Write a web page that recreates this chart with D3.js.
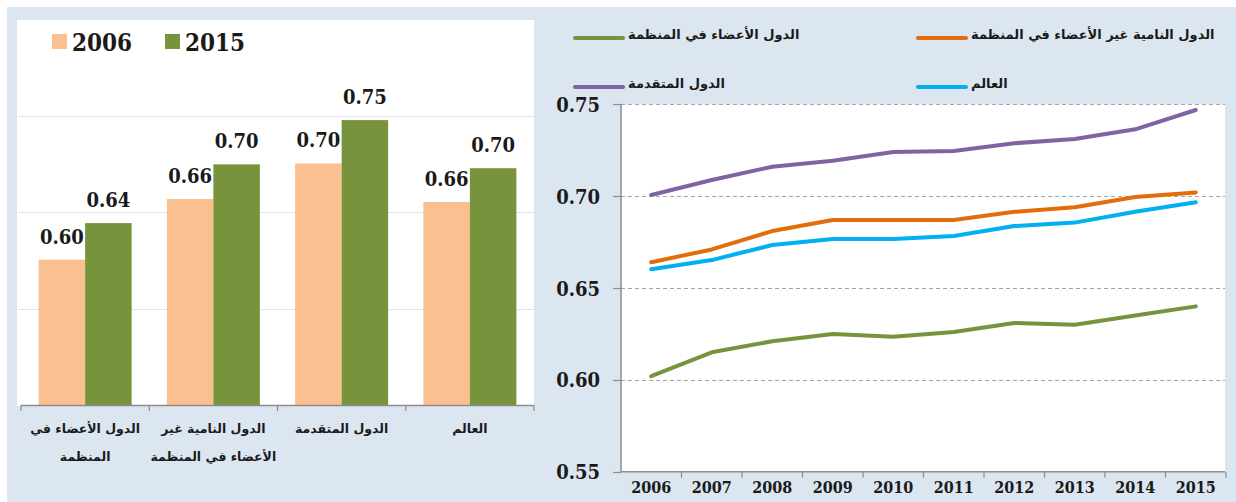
<!DOCTYPE html>
<html>
<head>
<meta charset="utf-8">
<script src="https://cdn.jsdelivr.net/npm/d3@7"></script>
<style>
  body { margin: 0; background: #fff; }
  svg { display: block; }
  .num { font-family: "DejaVu Serif Condensed", "DejaVu Serif", serif; font-stretch: condensed; font-weight: bold; fill: #1a1a1a; }
  .ar { font-family: "DejaVu Sans", sans-serif; font-weight: bold; fill: #1a1a1a; }
</style>
</head>
<body>
<svg id="chart" width="1236" height="502"></svg>
<script>
// bar chart data (2006 vs 2015)
const barCategories = ["members", "nonMembers", "developed", "world"];
const barCategoryLines = [
  ["الدول الأعضاء في", "المنظمة"],
  ["الدول النامية غير", "الأعضاء في المنظمة"],
  ["الدول المتقدمة"],
  ["العالم"]
];
const barYears = ["2006", "2015"];
const bar2006 = [0.601, 0.664, 0.701, 0.661];
const bar2015 = [0.639, 0.700, 0.746, 0.696];

// line chart data
const years = [2006, 2007, 2008, 2009, 2010, 2011, 2012, 2013, 2014, 2015];
const members = [0.602, 0.615, 0.621, 0.625, 0.6235, 0.626, 0.631, 0.630, 0.635, 0.640];
const nonMembers = [0.664, 0.671, 0.681, 0.687, 0.687, 0.687, 0.6915, 0.694, 0.6995, 0.702];
const developed = [0.7006, 0.7088, 0.716, 0.7193, 0.724, 0.7246, 0.7288, 0.7311, 0.7364, 0.7469];
const world = [0.6602, 0.6652, 0.6734, 0.6767, 0.6767, 0.6783, 0.6837, 0.6856, 0.6915, 0.6967];
const lineTicks = [0.55, 0.60, 0.65, 0.70, 0.75];

const seriesNames = {
  members: "الدول الأعضاء في المنظمة",
  nonMembers: "الدول النامية غير الأعضاء في المنظمة",
  developed: "الدول المتقدمة",
  world: "العالم"
};

const barColors = { "2006": "#fac090", "2015": "#77933c" };
const lineColors = { members: "#77933c", nonMembers: "#e46c0a", developed: "#8064a2", world: "#00b0f0" };

const svg = d3.select("#chart");

// panel background
svg.append("rect").attr("x", 7).attr("y", 7).attr("width", 1229).attr("height", 495).attr("fill", "#dce6f1");

// ---------- left: bar chart ----------
const bx = { left: 21, right: 534, top: 20, bottom: 405 };
svg.append("rect").attr("x", 17).attr("y", bx.top).attr("width", bx.right - 17).attr("height", bx.bottom - bx.top + 1).attr("fill", "#fff");

const x0 = d3.scaleBand().domain(barCategories).range([bx.left, bx.right]).paddingInner(0.275).paddingOuter(0.1375);
const x1 = d3.scaleBand().domain(barYears).range([0, x0.bandwidth()]);
const yb = d3.scaleLinear().domain([0.45, 0.85]).range([bx.bottom, bx.top]);

// gridlines
svg.append("g").selectAll("line").data([0.55, 0.65, 0.75]).enter().append("line")
  .attr("x1", bx.left - 3).attr("x2", bx.right)
  .attr("y1", d => Math.round(yb(d)) + 0.5).attr("y2", d => Math.round(yb(d)) + 0.5)
  .attr("stroke", "#e3e3e3");

const barData = barCategories.map((c, i) => ({ cat: c, values: [
  { year: "2006", value: bar2006[i] },
  { year: "2015", value: bar2015[i] }
] }));

const groups = svg.append("g").selectAll("g").data(barData).enter().append("g")
  .attr("transform", d => "translate(" + x0(d.cat) + ",0)");

groups.selectAll("rect").data(d => d.values).enter().append("rect")
  .attr("x", d => x1(d.year))
  .attr("width", x1.bandwidth())
  .attr("y", d => yb(d.value))
  .attr("height", d => bx.bottom - yb(d.value))
  .attr("fill", d => barColors[d.year]);

groups.selectAll("text").data(d => d.values).enter().append("text")
  .attr("class", "num")
  .attr("x", d => x1(d.year) + x1.bandwidth() / 2)
  .attr("y", d => yb(d.value) - 16)
  .attr("text-anchor", "middle")
  .attr("font-size", 20)
  .text(d => d3.format(".2f")(d.value));

// x axis
const step = x0.step();
const boundaries = d3.range(barCategories.length + 1).map(i => bx.left + i * step);
svg.append("line").attr("x1", bx.left).attr("x2", bx.right).attr("y1", bx.bottom + 0.5).attr("y2", bx.bottom + 0.5)
  .attr("stroke", "#8c8c8c").attr("stroke-width", 1.5);
svg.append("g").selectAll("line").data(boundaries).enter().append("line")
  .attr("x1", d => d).attr("x2", d => d).attr("y1", bx.bottom).attr("y2", bx.bottom + 6)
  .attr("stroke", "#8c8c8c").attr("stroke-width", 1.2);

svg.append("g").selectAll("text").data(barCategories).enter().append("text")
  .attr("class", "ar")
  .attr("text-anchor", "middle")
  .attr("font-size", 12.5)
  .attr("x", d => x0(d) + x0.bandwidth() / 2)
  .attr("y", 433)
  .each(function (d, i) {
    const t = d3.select(this);
    barCategoryLines[i].forEach((line, j) => {
      t.append("tspan").attr("x", x0(d) + x0.bandwidth() / 2).attr("y", 433 + j * 28).text(line);
    });
  });

// legend
const barLegend = svg.append("g");
[[52, "2006"], [165, "2015"]].forEach(([lx, yr]) => {
  barLegend.append("rect").attr("x", lx).attr("y", 34).attr("width", 15).attr("height", 15).attr("fill", barColors[yr]);
  barLegend.append("text").attr("class", "num").attr("x", lx + 20).attr("y", 51).attr("font-size", 24).text(yr);
});

// ---------- right: line chart ----------
const lx = { left: 621, right: 1225, top: 104.3, bottom: 471.7 };
svg.append("rect").attr("x", lx.left).attr("y", lx.top).attr("width", lx.right - lx.left).attr("height", lx.bottom - lx.top).attr("fill", "#fff");

const xl = d3.scaleBand().domain(years).range([lx.left, lx.left + 60.5 * years.length]);
const yl = d3.scaleLinear().domain([0.55, 0.75]).range([lx.bottom, lx.top]);

svg.append("g").selectAll("line").data(lineTicks.slice(1)).enter().append("line")
  .attr("x1", lx.left).attr("x2", lx.right)
  .attr("y1", d => Math.round(yl(d)) + 0.5).attr("y2", d => Math.round(yl(d)) + 0.5)
  .attr("stroke", "#a6a6a6").attr("stroke-dasharray", "4,3");

// y axis
svg.append("line").attr("x1", lx.left).attr("x2", lx.left).attr("y1", lx.top).attr("y2", lx.bottom)
  .attr("stroke", "#8c8c8c").attr("stroke-width", 1.5);
svg.append("g").selectAll("line").data(lineTicks).enter().append("line")
  .attr("x1", lx.left - 8).attr("x2", lx.left)
  .attr("y1", d => Math.round(yl(d)) + 0.5).attr("y2", d => Math.round(yl(d)) + 0.5)
  .attr("stroke", "#8c8c8c").attr("stroke-width", 1.2);
svg.append("g").selectAll("text").data(lineTicks).enter().append("text")
  .attr("class", "num")
  .attr("x", 600).attr("y", d => yl(d) + 7.5)
  .attr("text-anchor", "end").attr("font-size", 20)
  .text(d => d3.format(".2f")(d));

// x axis
svg.append("line").attr("x1", lx.left).attr("x2", lx.right).attr("y1", lx.bottom).attr("y2", lx.bottom)
  .attr("stroke", "#8c8c8c").attr("stroke-width", 1.5);
svg.append("g").selectAll("line").data(years).enter().append("line")
  .attr("x1", d => xl(d) + xl.bandwidth()).attr("x2", d => xl(d) + xl.bandwidth())
  .attr("y1", lx.bottom).attr("y2", lx.bottom + 6)
  .attr("stroke", "#8c8c8c").attr("stroke-width", 1.2);
svg.append("g").selectAll("text").data(years).enter().append("text")
  .attr("class", "num")
  .attr("x", d => xl(d) + xl.bandwidth() / 2).attr("y", 493)
  .attr("text-anchor", "middle").attr("font-size", 16)
  .text(d => d);

// lines
const lineSeries = { members: members, nonMembers: nonMembers, developed: developed, world: world };
const line = d3.line()
  .x((d, i) => xl(years[i]) + xl.bandwidth() / 2)
  .y(d => yl(d));
["members", "world", "nonMembers", "developed"].forEach(key => {
  svg.append("path").datum(lineSeries[key])
    .attr("d", line)
    .attr("fill", "none")
    .attr("stroke", lineColors[key])
    .attr("stroke-width", 4)
    .attr("stroke-linecap", "round")
    .attr("stroke-linejoin", "round");
});

// legend
const legendItems = [
  { key: "members", x: 575, y: 38 },
  { key: "nonMembers", x: 918, y: 38 },
  { key: "developed", x: 575, y: 87 },
  { key: "world", x: 918, y: 87 }
];
const lineLegend = svg.append("g");
legendItems.forEach(it => {
  lineLegend.append("line").attr("x1", it.x).attr("x2", it.x + 48).attr("y1", it.y).attr("y2", it.y)
    .attr("stroke", lineColors[it.key]).attr("stroke-width", 4).attr("stroke-linecap", "round");
  lineLegend.append("text").attr("class", "ar")
    .attr("x", it.x + 53).attr("y", it.y + 1)
    .attr("font-size", 13)
    .text(seriesNames[it.key]);
});
</script>
</body>
</html>
